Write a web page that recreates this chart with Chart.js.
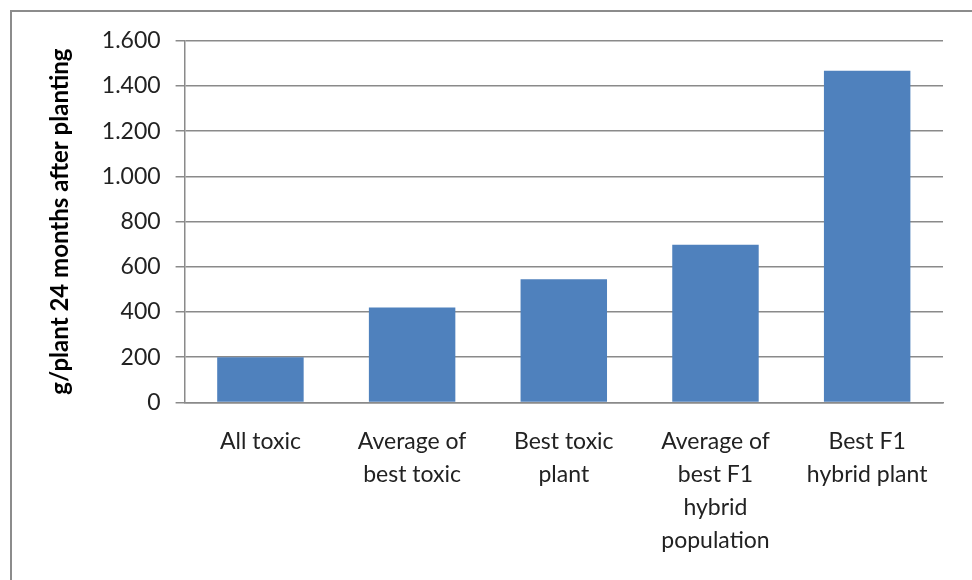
<!DOCTYPE html>
<html lang="en">
<head>
  <meta charset="UTF-8" />
  <title>Yield per plant</title>
  <script src="https://cdn.jsdelivr.net/npm/chart.js"></script>
  <style>
    body { margin: 0; background: #fff; }
    #frame {
      position: absolute;
      left: 10px;
      top: 10px;
      width: 980px;
      height: 580px;
      border-left: 2px solid #8c8c8c;
      border-top: 2px solid #8c8c8c;
    }
    #wrap {
      position: absolute;
      left: 12px;
      top: 12px;
      width: 960px;
      height: 568px;
    }
  </style>
</head>
<body>
  <div id="frame"></div>
  <div id="wrap"><canvas id="chart"></canvas></div>

  <script>
    const categories = [
      'All toxic',
      ['Average of', 'best toxic'],
      ['Best toxic', 'plant'],
      ['Average of', 'best F1', 'hybrid', 'population'],
      ['Best F1', 'hybrid plant']
    ];
    const yieldValues = [200, 420, 545, 698, 1467];
    const yTicks = [0, 200, 400, 600, 800, 1000, 1200, 1400, 1600];

    const fontFamily = 'Lato, "Open Sans", sans-serif';
    const gridColor = '#8a8a8a';

    const ctx = document.getElementById('chart').getContext('2d');
    new Chart(ctx, {
      type: 'bar',
      data: {
        labels: categories,
        datasets: [{
          data: yieldValues,
          backgroundColor: '#4f81bd',
          borderWidth: 0,
          categoryPercentage: 1,
          barPercentage: 0.57
        }]
      },
      options: {
        responsive: true,
        maintainAspectRatio: false,
        animation: false,
        layout: { padding: { top: 15, right: 29, left: 34, bottom: 0 } },
        plugins: {
          legend: { display: false },
          tooltip: { enabled: false }
        },
        scales: {
          x: {
            grid: { display: false, drawTicks: false },
            border: { color: gridColor, width: 1.5 },
            ticks: {
              color: '#222',
              font: { family: fontFamily, size: 23, lineHeight: 1.43 },
              maxRotation: 0,
              autoSkip: false,
              padding: 23
            }
          },
          y: {
            min: 0,
            max: 1600,
            afterBuildTicks: axis => { axis.ticks = yTicks.map(v => ({ value: v })); },
            grid: { color: gridColor, lineWidth: 1.5, tickLength: 9 },
            border: { color: gridColor, width: 1.5 },
            ticks: {
              color: '#222',
              font: { family: fontFamily, size: 23 },
              padding: 15,
              callback: v => v.toLocaleString('de-DE')
            },
            title: {
              display: true,
              text: 'g/plant 24 months after planting',
              color: '#000',
              font: { family: fontFamily, size: 24, weight: 'bold' },
              padding: { top: 0, bottom: 12 }
            }
          }
        }
      }
    });
  </script>
</body>
</html>
